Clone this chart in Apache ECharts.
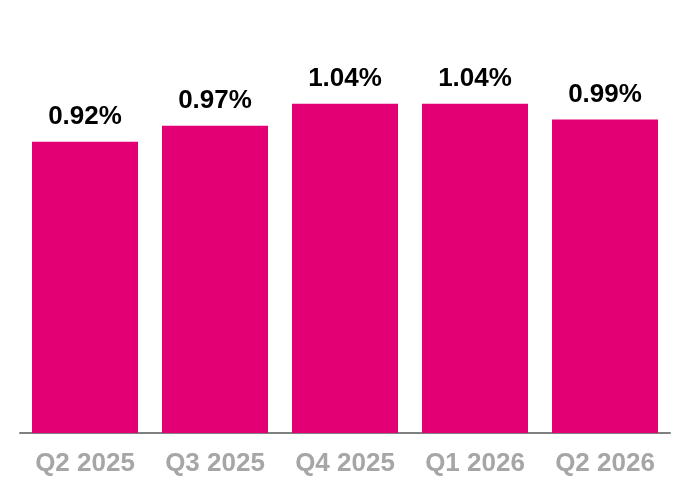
<!DOCTYPE html>
<html>
<head>
<meta charset="UTF-8">
<script src="https://cdn.jsdelivr.net/npm/echarts@6/dist/echarts.min.js"></script>
<style>
  html, body { margin: 0; padding: 0; background: #fff; }
  #chart { width: 690px; height: 500px; }
</style>
</head>
<body>
<div id="chart"></div>
<script>
// quarters and values (percent)
var quarters = ['Q2 2025', 'Q3 2025', 'Q4 2025', 'Q1 2026', 'Q2 2026'];
var values = [0.92, 0.97, 1.04, 1.04, 0.99];

var chart = echarts.init(document.getElementById('chart'));
var option = {
  backgroundColor: '#ffffff',
  animation: false,
  grid: { left: 20, right: 20, top: 53, bottom: 67, containLabel: false },
  xAxis: {
    type: 'category',
    data: quarters,
    axisLine: { lineStyle: { color: '#808080', width: 2 } },
    axisTick: { show: false },
    axisLabel: {
      color: '#a6a6a6',
      fontFamily: 'Liberation Sans, Arial, sans-serif',
      fontWeight: 'bold',
      fontSize: 26,
      margin: 18
    }
  },
  yAxis: {
    type: 'value',
    min: 0,
    max: 1.2,
    show: false,
    splitLine: { show: false }
  },
  series: [{
    type: 'bar',
    data: values,
    barWidth: 106,
    itemStyle: { color: '#e20074' },
    label: {
      show: true,
      position: 'top',
      distance: 12,
      color: '#000000',
      fontFamily: 'Liberation Sans, Arial, sans-serif',
      fontWeight: 'bold',
      fontSize: 26,
      formatter: function (p) { return p.value.toFixed(2) + '%'; }
    }
  }]
};
chart.setOption(option);
</script>
</body>
</html>
